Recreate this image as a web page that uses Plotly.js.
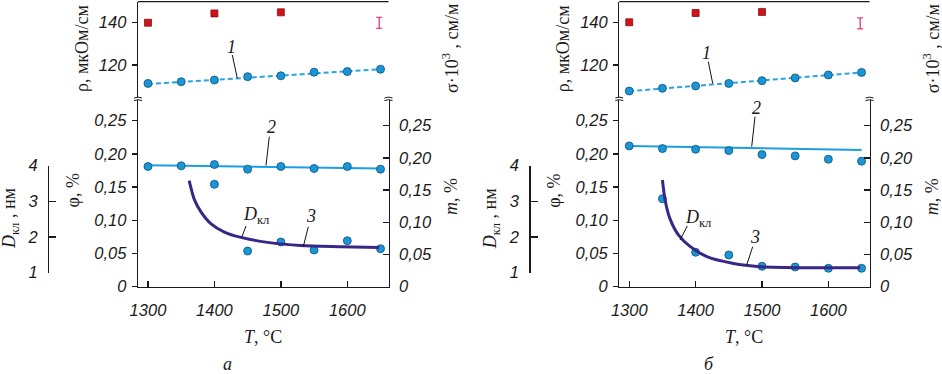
<!DOCTYPE html>
<html><head><meta charset="utf-8">
<script src="https://cdn.plot.ly/plotly-3.0.1.min.js"></script>
<style>html,body{margin:0;padding:0;background:#fff}#chart{width:942px;height:374px}</style>
</head><body><div id="chart"></div>
<script>
// ---------- data ----------
const T = [1300, 1350, 1400, 1450, 1500, 1550, 1600, 1650];
const xTicks = [1300, 1400, 1500, 1600];

// panel a
const rhoA = [111.3, 112.1, 112.9, 114.5, 114.9, 116.6, 116.9, 118.0];
const rhoFitT = [1300, 1650];
const rhoFitA = [111.0, 118.0];
const rhoSqT = [1300, 1400, 1500];
const rhoSqA = [140.0, 144.4, 144.9];
const phiA = [0.181, 0.182, 0.184, 0.177, 0.181, 0.178, 0.181, 0.177];
const phiFitT = [1300, 1650];
const phiFitA = [0.183, 0.178];
const mTA = [1400, 1450, 1500, 1550, 1600, 1650];
const mA = [0.159, 0.0554, 0.0694, 0.0570, 0.0714, 0.0590];
const dTA = [1362, 1370, 1380, 1395, 1415, 1440, 1480, 1530, 1590, 1648];
const dA = [3.58, 3.04, 2.70, 2.37, 2.14, 1.99, 1.85, 1.76, 1.73, 1.71];

// panel b
const rhoB = [107.7, 109.0, 110.1, 111.3, 112.6, 113.9, 115.3, 116.5];
const rhoFitB = [107.6, 116.5];
const rhoSqB = [140.2, 144.6, 145.1];
const phiB = [0.212, 0.208, 0.207, 0.205, 0.199, 0.197, 0.192, 0.189];
const phiFitB = [0.212, 0.206];
const mTB = [1350, 1400, 1450, 1500, 1550, 1600, 1650];
const mB = [0.1366, 0.0534, 0.0492, 0.0317, 0.0306, 0.0286, 0.0286];
const dTB = [1350, 1354, 1361, 1374, 1392, 1417, 1457, 1497, 1557, 1648];
const dB = [3.60, 3.04, 2.53, 2.06, 1.73, 1.45, 1.26, 1.17, 1.14, 1.14];

// error-bar marker (scale of measurement error)
const errT = [1648];
const errRhoA = [139.9];
const errRhoB = [139.7];
const errSize = [2.6];

// tick labels
const rhoTicks = [120, 140];
const sigmaTickPos = [141.75, 129.13, 113.38];
const sigmaTickText = ['7,0', '8,0', '9,0'];
const phiTicks = [0, 0.05, 0.10, 0.15, 0.20, 0.25];
const phiTickText = ['0', '0,05', '0,10', '0,15', '0,20', '0,25'];
const dTicks = [1, 2, 3, 4];

const it = arr => arr.map(v => '<i>' + String(v) + '</i>');

// ---------- geometry helpers ----------
const W = 942, H = 374;
const px = v => v / W;
const py = v => 1 - v / H;

const panels = [
  {L: 138, R: 388.5, D: 48},
  {L: 619.3, R: 869.5, D: 529.3}
];
const yTop = 1.7, yBreak = 98.7, yBot = 286.7, yD4 = 165.7, yD1 = 272.7;
const lowDom = [py(yBot), py(yBreak)];
const upDom = [py(yBreak), py(yTop)];
const dDom = [py(yD1), py(yD4)];

const tickFont = {family: 'Liberation Sans, Arial, sans-serif', size: 16.5, color: '#1a1a1a'};
const titleFont = {family: 'Liberation Serif, Times New Roman, serif', size: 18, color: '#1a1a1a'};
const axCol = '#1a1a1a';

const blue = '#1b96d4', blueEdge = '#0b4f80';
const circ = {size: 8, color: blue, line: {color: blueEdge, width: 0.8}};
const sq = {symbol: 'square', size: 7, color: '#d3121b', line: {color: '#6a0a0a', width: 0.7}};

const traces = [];
function addPanel(xa, yPhi, yM, yRho, yD, rho, rhoFit, rhoSq, phi, phiFit, mT, m, dT, d, errRho) {
  traces.push({x: rhoFitT, y: rhoFit, xaxis: xa, yaxis: yRho, mode: 'lines',
    line: {color: '#2aa3e6', width: 2, dash: '5px,3px'}});
  traces.push({x: T, y: rho, xaxis: xa, yaxis: yRho, mode: 'markers', marker: circ});
  traces.push({x: rhoSqT, y: rhoSq, xaxis: xa, yaxis: yRho, mode: 'markers', marker: sq});
  traces.push({x: errT, y: errRho, xaxis: xa, yaxis: yRho, mode: 'markers',
    marker: {size: 1, opacity: 0},
    error_y: {type: 'data', array: errSize, visible: true, color: '#e8407f', thickness: 1.4, width: 3}});
  traces.push({x: phiFitT, y: phiFit, xaxis: xa, yaxis: yPhi, mode: 'lines',
    line: {color: '#1c9fe2', width: 2}});
  traces.push({x: T, y: phi, xaxis: xa, yaxis: yPhi, mode: 'markers', marker: circ});
  traces.push({x: dT, y: d, xaxis: xa, yaxis: yD, mode: 'lines',
    line: {color: '#3a2687', width: 3, shape: 'spline', smoothing: 0.8}});
  traces.push({x: mT, y: m, xaxis: xa, yaxis: yM, mode: 'markers', marker: circ});
}
addPanel('x', 'y', 'y2', 'y3', 'y5', rhoA, rhoFitA, rhoSqA, phiA, phiFitA, mTA, mA, dTA, dA, errRhoA);
addPanel('x2', 'y6', 'y7', 'y8', 'y10', rhoB, rhoFitB, rhoSqB, phiB, phiFitB, mTB, mB, dTB, dB, errRhoB);

const baseAx = {showgrid: false, zeroline: false, showline: true, linecolor: axCol, linewidth: 1.3,
  tickcolor: axCol, tickwidth: 1.3, tickfont: tickFont};

const layout = {
  width: W, height: H, margin: {l: 0, r: 0, t: 0, b: 0},
  paper_bgcolor: '#fff', plot_bgcolor: 'rgba(0,0,0,0)', showlegend: false,
  shapes: [], annotations: []
};

function axesFor(i) {
  const p = panels[i];
  const n = i * 5;
  const xn = i === 0 ? 'xaxis' : 'xaxis2';
  const xid = i === 0 ? 'x' : 'x2';
  const yid = k => 'y' + (n + k === 1 ? '' : (n + k));
  const yname = k => 'yaxis' + (n + k === 1 ? '' : (n + k));
  layout[xn] = Object.assign({}, baseAx, {domain: [px(p.L), px(p.R)], range: [1285, 1662], anchor: yid(1),
    tickvals: xTicks, ticktext: it(xTicks), ticks: 'inside', ticklen: 6, ticklabelstandoff: 8});
  layout[yname(1)] = Object.assign({}, baseAx, {domain: lowDom, range: [0, 0.2831], anchor: xid, side: 'left',
    tickvals: phiTicks, ticktext: it(phiTickText), ticks: 'outside', ticklen: 5, ticklabelstandoff: 2});
  layout[yname(2)] = Object.assign({}, baseAx, {overlaying: yid(1), range: [0, 0.2919], anchor: xid, side: 'right',
    tickvals: phiTicks, ticktext: it(phiTickText), ticks: 'inside', ticklen: 6, ticklabelstandoff: 6});
  layout[yname(3)] = Object.assign({}, baseAx, {domain: upDom, range: [104.07, 149.93], anchor: xid, side: 'left',
    tickvals: rhoTicks, ticktext: it(rhoTicks), ticks: 'outside', ticklen: 5, ticklabelstandoff: 2});
  layout[yname(4)] = Object.assign({}, baseAx, {overlaying: yid(3), range: [104.07, 149.93], anchor: xid, side: 'right',
    tickvals: sigmaTickPos, ticktext: it(sigmaTickText), ticks: 'inside', ticklen: 6, ticklabelstandoff: 6});
  layout[yname(5)] = Object.assign({}, baseAx, {domain: dDom, range: [1, 4], anchor: 'free', position: px(p.D),
    side: 'left', tickvals: dTicks, ticktext: it(dTicks), ticks: 'inside', ticklen: 7, ticklabelstandoff: 7});

  layout.shapes.push({type: 'line', xref: 'paper', yref: 'paper', x0: px(p.L), x1: px(p.R), y0: py(yTop), y1: py(yTop),
    line: {color: axCol, width: 1.3}});
  [p.L, p.R].forEach(xx => {
    layout.shapes.push({type: 'rect', xref: 'paper', yref: 'paper', x0: px(xx - 2), x1: px(xx + 2),
      y0: py(yBreak + 1.1), y1: py(yBreak - 1.1), line: {width: 0}, fillcolor: '#fff', layer: 'above'});
    [yBreak - 1.3, yBreak + 1.3].forEach(yy => {
      layout.shapes.push({type: 'path', xref: 'paper', yref: 'paper', layer: 'above',
        path: `M ${px(xx - 4)} ${py(yy + 0.6)} Q ${px(xx)} ${py(yy - 1.2)} ${px(xx + 4)} ${py(yy + 0.6)}`,
        line: {color: axCol, width: 1}});
    });
  });
}
axesFor(0); axesFor(1);

const off = panels[1].L - panels[0].L;
function ann(text, x, y, angle, font) {
  layout.annotations.push({text, x: px(x), y: py(y), xref: 'paper', yref: 'paper', showarrow: false,
    textangle: angle || 0, font: font || titleFont, xanchor: 'center', yanchor: 'middle'});
}
function lead(x0, y0, x1, y1) {
  layout.shapes.push({type: 'line', xref: 'paper', yref: 'paper', x0: px(x0), y0: py(y0), x1: px(x1), y1: py(y1),
    line: {color: '#111', width: 1}});
}
[0, 1].forEach(i => {
  const o = i * off;
  ann('ρ, мкОм/см', 82 + o, 49, -90);
  ann('φ, %', 72.5 + o, 191, -90);
  ann('<i>D</i><sub>кл</sub> , нм', 10 + o, 219, -90, Object.assign({}, titleFont, {size: 18}));
  ann('σ·10<sup>3</sup> , см/м', 451 + o, 49, -90);
  ann('<i>m</i>, %', 451 + o, 197, -90);
  ann('<i>T</i>, °C', 262.5 + o, 336.7, 0);
});
ann('<i>а</i>', 227.5, 363.5, 0);
ann('<i>б</i>', 709, 363.5, 0);

const lblFont = Object.assign({}, titleFont, {size: 18});
ann('<i>1</i>', 231, 47, 0, lblFont); lead(232.3, 55, 237.3, 78.3);
ann('<i>2</i>', 271.7, 126.7, 0, lblFont); lead(269.3, 136.7, 266, 165.5);
ann('<i>D</i><sub>кл</sub>', 256, 215, 0, lblFont); lead(246, 226, 241.7, 237.3);
ann('<i>3</i>', 311, 216, 0, lblFont); lead(308.3, 226.7, 303.3, 246.7);
ann('<i>1</i>', 706.7, 53.3, 0, lblFont); lead(708.3, 61.7, 712.7, 83.3);
ann('<i>2</i>', 756.7, 108.3, 0, lblFont); lead(755, 116.7, 751.7, 146.7);
ann('<i>D</i><sub>кл</sub>', 698, 218.5, 0, lblFont); lead(687.3, 226, 680, 240);
ann('<i>3</i>', 755, 237.3, 0, lblFont); lead(752.7, 246.7, 746.7, 265);

Plotly.newPlot('chart', traces, layout, {staticPlot: true, displayModeBar: false});
</script></body></html>
